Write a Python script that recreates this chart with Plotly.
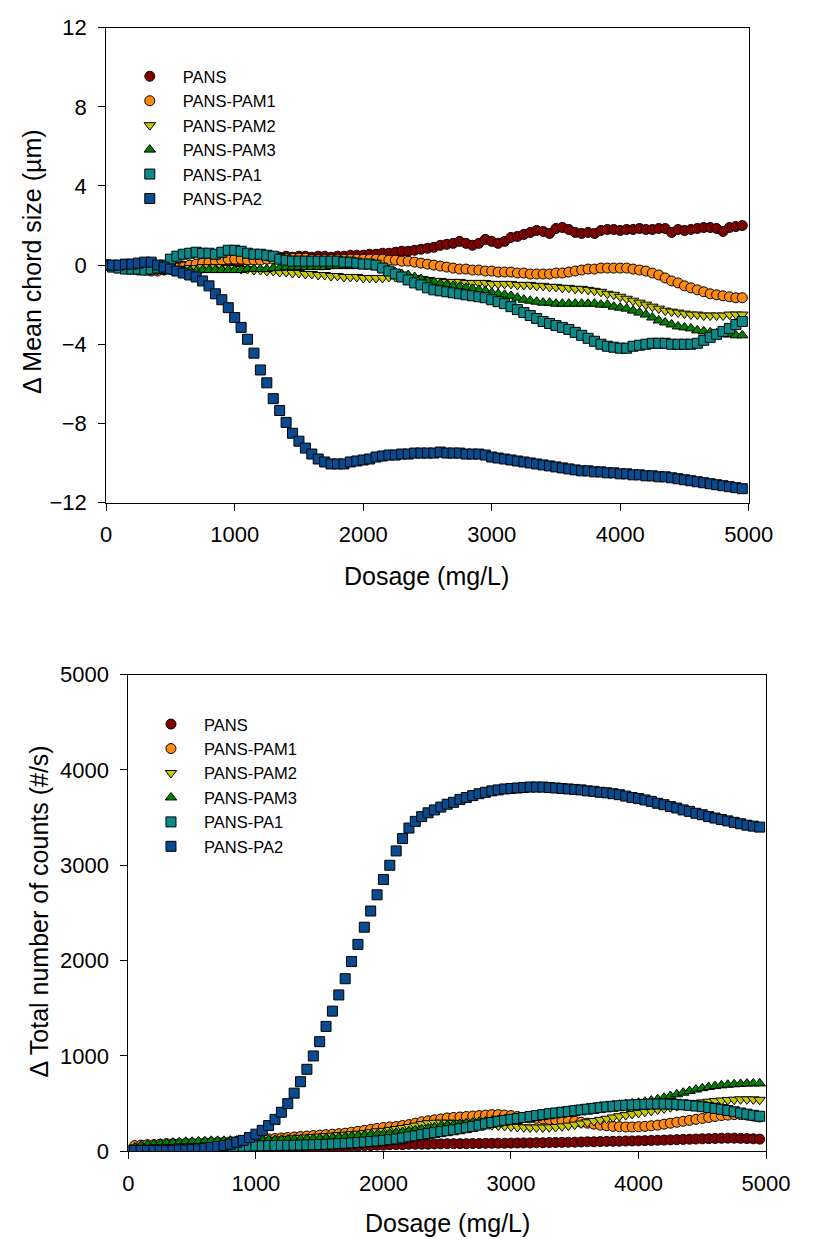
import plotly.graph_objects as go

dosage = [0, 50, 100, 150, 200, 250, 300, 350, 400, 450, 500, 550, 600, 650, 700, 750, 800, 850, 900, 950,
          1000, 1050, 1100, 1150, 1200, 1250, 1300, 1350, 1400, 1450, 1500, 1550, 1600, 1650, 1700, 1750, 1800, 1850, 1900, 1950,
          2000, 2050, 2100, 2150, 2200, 2250, 2300, 2350, 2400, 2450, 2500, 2550, 2600, 2650, 2700, 2750, 2800, 2850, 2900, 2950,
          3000, 3050, 3100, 3150, 3200, 3250, 3300, 3350, 3400, 3450, 3500, 3550, 3600, 3650, 3700, 3750, 3800, 3850, 3900, 3950,
          4000, 4050, 4100, 4150, 4200, 4250, 4300, 4350, 4400, 4450, 4500, 4550, 4600, 4650, 4700, 4750, 4800, 4850, 4900, 4950]

series_names = ["PANS", "PANS-PAM1", "PANS-PAM2", "PANS-PAM3", "PANS-PA1", "PANS-PA2"]

# ---- Top panel: change in mean chord size (um) ----
chord_pans = [0.0, -0.05, -0.1, -0.1, -0.15, -0.1, -0.15, -0.2, -0.15, -0.2, -0.15, -0.1, -0.05, 0.0, 0.0, 0.05, 0.1, 0.1, 0.15, 0.2,
              0.25, 0.2, 0.25, 0.3, 0.3, 0.35, 0.4, 0.4, 0.45, 0.4, 0.45, 0.45, 0.4, 0.45, 0.45, 0.4, 0.45, 0.45, 0.5, 0.5,
              0.5, 0.55, 0.55, 0.6, 0.6, 0.65, 0.7, 0.7, 0.75, 0.8, 0.85, 0.9, 1.0, 1.05, 1.1, 1.2, 1.1, 1.0, 1.1, 1.3,
              1.2, 1.1, 1.2, 1.4, 1.45, 1.55, 1.65, 1.75, 1.7, 1.6, 1.85, 1.9, 1.8, 1.65, 1.6, 1.65, 1.6, 1.75, 1.8, 1.8,
              1.75, 1.8, 1.8, 1.85, 1.8, 1.8, 1.85, 1.85, 1.65, 1.8, 1.75, 1.8, 1.85, 1.9, 1.9, 1.85, 1.7, 1.9, 1.95, 2.0]
chord_pam1 = [0.0, -0.05, -0.1, -0.15, -0.2, -0.25, -0.25, -0.3, -0.3, -0.25, -0.2, -0.15, -0.1, 0.0, 0.05, 0.1, 0.15, 0.2, 0.25, 0.3,
              0.3, 0.3, 0.25, 0.25, 0.25, 0.3, 0.3, 0.3, 0.35, 0.35, 0.35, 0.35, 0.3, 0.3, 0.3, 0.3, 0.3, 0.3, 0.3, 0.3,
              0.3, 0.3, 0.3, 0.3, 0.25, 0.25, 0.2, 0.2, 0.15, 0.1, 0.05, 0.0, -0.05, -0.1, -0.15, -0.2, -0.2, -0.25, -0.25, -0.3,
              -0.3, -0.35, -0.35, -0.35, -0.4, -0.4, -0.45, -0.45, -0.45, -0.45, -0.4, -0.4, -0.35, -0.3, -0.25, -0.2, -0.2, -0.15, -0.15, -0.15,
              -0.15, -0.15, -0.2, -0.25, -0.3, -0.4, -0.5, -0.65, -0.8, -0.9, -1.05, -1.15, -1.25, -1.35, -1.45, -1.5, -1.55, -1.6, -1.65, -1.65]
chord_pam2 = [0.0, -0.05, -0.1, -0.15, -0.15, -0.2, -0.2, -0.25, -0.25, -0.25, -0.25, -0.2, -0.2, -0.15, -0.15, -0.1, -0.1, -0.1, -0.1, -0.15,
              -0.15, -0.2, -0.2, -0.25, -0.25, -0.3, -0.3, -0.35, -0.35, -0.4, -0.4, -0.45, -0.45, -0.5, -0.5, -0.55, -0.55, -0.6, -0.6, -0.6,
              -0.65, -0.65, -0.65, -0.65, -0.6, -0.6, -0.6, -0.6, -0.65, -0.7, -0.75, -0.8, -0.8, -0.85, -0.85, -0.85, -0.9, -0.9, -0.9, -0.9,
              -0.95, -0.95, -0.95, -0.95, -1.0, -1.0, -1.0, -1.05, -1.05, -1.1, -1.1, -1.15, -1.15, -1.2, -1.2, -1.25, -1.3, -1.35, -1.45, -1.5,
              -1.6, -1.7, -1.8, -1.9, -2.0, -2.1, -2.2, -2.3, -2.35, -2.4, -2.45, -2.5, -2.5, -2.55, -2.55, -2.55, -2.55, -2.5, -2.5, -2.5]
chord_pam3 = [0.0, -0.1, -0.15, -0.2, -0.2, -0.25, -0.25, -0.3, -0.3, -0.3, -0.3, -0.3, -0.3, -0.3, -0.3, -0.25, -0.25, -0.25, -0.25, -0.25,
              -0.25, -0.25, -0.2, -0.2, -0.2, -0.2, -0.15, -0.15, -0.1, -0.1, -0.1, -0.1, -0.1, -0.1, -0.1, -0.05, -0.05, -0.05, -0.05, -0.05,
              -0.05, -0.05, -0.1, -0.15, -0.25, -0.35, -0.45, -0.5, -0.6, -0.7, -0.8, -0.85, -0.95, -1.0, -1.05, -1.1, -1.15, -1.2, -1.25, -1.3,
              -1.4, -1.45, -1.5, -1.55, -1.65, -1.75, -1.8, -1.85, -1.9, -1.9, -1.95, -1.95, -1.95, -1.95, -1.95, -1.95, -1.95, -2.0, -2.0, -2.1,
              -2.15, -2.2, -2.3, -2.4, -2.5, -2.65, -2.8, -2.9, -3.0, -3.1, -3.15, -3.2, -3.3, -3.35, -3.4, -3.45, -3.5, -3.5, -3.55, -3.55]
chord_pa1 = [0.0, -0.1, -0.15, -0.2, -0.2, -0.2, -0.25, -0.2, -0.15, 0.0, 0.3, 0.45, 0.55, 0.6, 0.65, 0.6, 0.6, 0.55, 0.65, 0.75,
             0.75, 0.7, 0.6, 0.55, 0.55, 0.5, 0.45, 0.3, 0.25, 0.2, 0.2, 0.2, 0.2, 0.2, 0.2, 0.2, 0.2, 0.15, 0.15, 0.1,
             0.05, 0.05, 0.0, -0.15, -0.3, -0.45, -0.6, -0.75, -0.9, -1.0, -1.15, -1.25, -1.3, -1.35, -1.4, -1.45, -1.5, -1.55, -1.6, -1.65,
             -1.75, -1.85, -1.95, -2.1, -2.25, -2.4, -2.55, -2.7, -2.85, -2.95, -3.05, -3.15, -3.25, -3.4, -3.55, -3.7, -3.85, -4.0, -4.1, -4.15,
             -4.2, -4.2, -4.1, -4.05, -4.0, -3.95, -3.95, -3.95, -4.0, -4.0, -4.0, -4.0, -3.95, -3.8, -3.65, -3.5, -3.35, -3.2, -3.0, -2.85]
chord_pa2 = [0.0, 0.0, 0.0, 0.05, 0.05, 0.1, 0.15, 0.15, 0.0, -0.1, -0.2, -0.3, -0.4, -0.5, -0.6, -0.8, -1.05, -1.45, -1.75, -2.15,
             -2.65, -3.15, -3.75, -4.45, -5.3, -5.95, -6.75, -7.35, -7.95, -8.5, -8.9, -9.25, -9.55, -9.8, -9.95, -10.05, -10.05, -10.05, -9.95, -9.9,
             -9.85, -9.8, -9.7, -9.65, -9.6, -9.6, -9.55, -9.55, -9.5, -9.5, -9.5, -9.5, -9.45, -9.5, -9.5, -9.5, -9.55, -9.55, -9.55, -9.6,
             -9.7, -9.75, -9.8, -9.85, -9.9, -9.95, -10.0, -10.05, -10.1, -10.15, -10.2, -10.25, -10.3, -10.35, -10.4, -10.4, -10.45, -10.45, -10.5, -10.5,
             -10.55, -10.55, -10.6, -10.6, -10.65, -10.65, -10.7, -10.7, -10.75, -10.8, -10.85, -10.9, -10.95, -11.0, -11.05, -11.1, -11.15, -11.2, -11.25, -11.3]

# ---- Bottom panel: change in total number of counts (#/s) ----
count_pans = [0, 0, 0, 0, 0, 0, 0, 0, 0, 0, 5, 5, 5, 5, 10, 10, 10, 10, 15, 15,
              15, 20, 20, 20, 25, 25, 30, 30, 35, 35, 40, 40, 45, 45, 50, 55, 55, 60, 60, 65,
              65, 70, 70, 70, 75, 75, 75, 75, 78, 78, 80, 80, 80, 80, 82, 82, 84, 84, 85, 85,
              86, 87, 88, 88, 90, 90, 92, 93, 94, 95, 96, 98, 100, 100, 102, 104, 105, 106, 108, 109,
              110, 112, 114, 116, 118, 120, 122, 125, 127, 129, 131, 133, 135, 137, 138, 138, 136, 134, 131, 128]
count_pam1 = [0, 60, 65, 70, 70, 75, 80, 80, 80, 85, 85, 85, 90, 90, 95, 95, 100, 105, 110, 115,
              120, 125, 130, 135, 140, 145, 150, 155, 160, 165, 170, 175, 180, 185, 190, 200, 210, 220, 230, 240,
              250, 255, 260, 270, 280, 295, 310, 320, 330, 340, 350, 355, 360, 365, 370, 375, 380, 385, 385, 380,
              375, 365, 355, 350, 345, 340, 335, 330, 325, 320, 315, 305, 295, 285, 275, 268, 262, 258, 255, 255,
              258, 262, 268, 275, 285, 295, 305, 315, 325, 335, 345, 355, 365, 375, 380, 385, 385, 380, 370, 360]
count_pam2 = [0, 40, 50, 55, 60, 60, 65, 65, 70, 70, 75, 75, 80, 80, 85, 85, 90, 95, 100, 100,
              105, 110, 115, 120, 125, 130, 135, 140, 145, 150, 155, 160, 165, 170, 175, 180, 185, 190, 200, 210,
              215, 225, 235, 245, 255, 270, 285, 295, 300, 300, 300, 298, 295, 292, 290, 285, 280, 275, 270, 265,
              260, 255, 252, 250, 250, 250, 252, 255, 262, 270, 280, 292, 305, 318, 330, 342, 355, 368, 380, 392,
              403, 414, 425, 438, 450, 462, 475, 485, 495, 505, 513, 520, 527, 533, 538, 542, 545, 545, 545, 540]
count_pam3 = [0, 40, 60, 70, 75, 80, 85, 90, 95, 100, 100, 105, 105, 110, 110, 110, 112, 112, 115, 115,
              115, 118, 118, 120, 122, 124, 126, 128, 130, 132, 135, 138, 141, 145, 150, 155, 160, 165, 170, 175,
              180, 188, 195, 203, 212, 222, 232, 242, 252, 262, 272, 280, 288, 296, 303, 310, 316, 322, 328, 334,
              340, 348, 356, 364, 373, 384, 395, 405, 415, 425, 435, 445, 455, 463, 470, 477, 484, 490, 496, 502,
              510, 520, 532, 546, 562, 580, 598, 615, 632, 648, 662, 674, 684, 692, 698, 703, 707, 710, 712, 712]
count_pa1 = [0, 5, 10, 10, 15, 15, 20, 20, 25, 25, 30, 30, 35, 35, 40, 45, 50, 52, 54, 55,
             57, 58, 60, 61, 62, 63, 64, 66, 67, 69, 71, 74, 77, 80, 84, 88, 92, 97, 103, 109,
             115, 122, 130, 140, 152, 163, 175, 186, 196, 206, 216, 226, 237, 248, 260, 274, 288, 302, 315, 325,
             335, 345, 355, 365, 375, 385, 394, 402, 410, 418, 426, 434, 442, 450, 458, 466, 472, 478, 483, 487,
             490, 493, 495, 496, 496, 495, 493, 488, 482, 475, 468, 460, 450, 440, 428, 415, 402, 390, 378, 368]
count_pa2 = [10, 10, 10, 10, 10, 10, 10, 10, 15, 15, 20, 25, 30, 40, 50, 60, 75, 95, 115, 145,
             180, 220, 270, 335, 410, 500, 610, 730, 860, 1000, 1150, 1310, 1470, 1640, 1810, 1990, 2170, 2350, 2520, 2690,
             2850, 3000, 3150, 3280, 3390, 3460, 3510, 3550, 3580, 3610, 3640, 3660, 3690, 3710, 3730, 3750, 3765, 3780, 3790, 3800,
             3805, 3810, 3815, 3820, 3820, 3820, 3815, 3810, 3805, 3800, 3795, 3790, 3780, 3775, 3765, 3760, 3750, 3740, 3725, 3710,
             3700, 3685, 3670, 3650, 3635, 3615, 3600, 3580, 3565, 3545, 3530, 3510, 3495, 3480, 3465, 3450, 3435, 3420, 3410, 3400]

colors = ["#800000", "#ff8a12", "#c8c800", "#008000", "#0b8a8a", "#0a4a8f"]
symbols = ["circle", "circle", "triangle-down", "triangle-up", "square", "square"]

chord_data = [chord_pans, chord_pam1, chord_pam2, chord_pam3, chord_pa1, chord_pa2]
count_data = [count_pans, count_pam1, count_pam2, count_pam3, count_pa1, count_pa2]

W, H = 818, 1254
FONT = "Liberation Sans, Arial, sans-serif"

fig = go.Figure()
for i, name in enumerate(series_names):
    fig.add_trace(go.Scatter(
        x=dosage, y=chord_data[i], mode="markers", name=name,
        marker=dict(symbol=symbols[i], color=colors[i], size=10,
                    line=dict(color="black", width=1)),
        xaxis="x", yaxis="y", legend="legend"))
for i, name in enumerate(series_names):
    fig.add_trace(go.Scatter(
        x=dosage, y=count_data[i], mode="markers", name=name,
        marker=dict(symbol=symbols[i], color=colors[i], size=10,
                    line=dict(color="black", width=1)),
        xaxis="x2", yaxis="y2", legend="legend2"))

def px_x(p):
    return p / W

def px_y(p):
    return 1 - p / H

axis_common = dict(showline=True, linecolor="black", linewidth=1, mirror=True,
                   ticks="outside", ticklen=7, tickwidth=1, tickcolor="black",
                   showgrid=False, zeroline=False, ticklabeloverflow="allow",
                   tickfont=dict(family=FONT, size=22, color="black"))

fig.update_layout(
    width=W, height=H,
    margin=dict(l=0, r=0, t=0, b=0),
    paper_bgcolor="white", plot_bgcolor="white",
    font=dict(family=FONT, color="black"),
    xaxis=dict(domain=[px_x(104), px_x(771)], range=[0, 5000], dtick=1000, anchor="y",
               ticklabelstandoff=5, **axis_common),
    yaxis=dict(domain=[px_y(500.5), px_y(16)], range=[-12, 12], dtick=4, anchor="x",
               ticklabelstandoff=7, **axis_common),
    xaxis2=dict(domain=[px_x(127), px_x(789)], range=[0, 5000], dtick=1000, anchor="y2",
                ticklabelstandoff=5, **axis_common),
    yaxis2=dict(domain=[px_y(1162.5), px_y(676)], range=[0, 5000], dtick=1000, anchor="x2",
                ticklabelstandoff=7, **axis_common),
    legend=dict(x=px_x(115), y=px_y(48), xanchor="left", yanchor="top",
                bgcolor="rgba(0,0,0,0)", itemwidth=56, borderwidth=0,
                font=dict(family=FONT, size=16.5, color="black"), tracegroupgap=0),
    legend2=dict(x=px_x(137), y=px_y(709), xanchor="left", yanchor="top",
                 bgcolor="rgba(0,0,0,0)", itemwidth=56, borderwidth=0,
                 font=dict(family=FONT, size=16.5, color="black"), tracegroupgap=0),
    annotations=[
        dict(text="Dosage (mg/L)", x=px_x(437), y=px_y(575), xref="paper", yref="paper",
             xanchor="center", yanchor="middle",
             showarrow=False, font=dict(family=FONT, size=25, color="black")),
        dict(text="Dosage (mg/L)", x=px_x(458), y=px_y(1236), xref="paper", yref="paper",
             xanchor="center", yanchor="middle",
             showarrow=False, font=dict(family=FONT, size=25, color="black")),
        dict(text="Δ Mean chord size (µm)", x=px_x(27), y=px_y(255), xref="paper", yref="paper",
             xanchor="center", yanchor="middle",
             showarrow=False, textangle=-90, font=dict(family=FONT, size=25, color="black")),
        dict(text="Δ Total number of counts (#/s)", x=px_x(34), y=px_y(918), xref="paper", yref="paper",
             xanchor="center", yanchor="middle",
             showarrow=False, textangle=-90, font=dict(family=FONT, size=25, color="black")),
    ],
)

fig.write_html("out.html")
